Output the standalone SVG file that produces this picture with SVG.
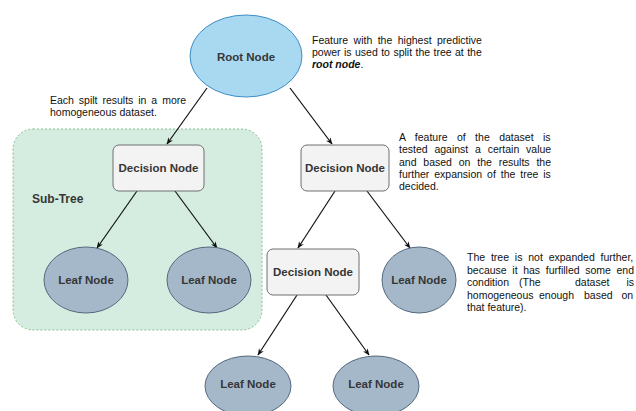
<svg xmlns="http://www.w3.org/2000/svg" width="636" height="411" viewBox="0 0 636 411">
<defs>
<style>
.lbl{font-family:"Liberation Sans",Arial,sans-serif;font-weight:bold;font-size:11.5px;fill:#363636;text-anchor:middle;dominant-baseline:central}
.ann{font-family:"Liberation Sans",Arial,sans-serif;font-size:10.5px;fill:#111}
.dec{fill:#f3f3f3;stroke:#6e6e6e;stroke-width:1}
.leaf{fill:#a5b8ca;stroke:#55697d;stroke-width:1}
.edge{stroke:#111;stroke-width:1.2;fill:none;marker-end:url(#ah)}
</style>
<marker id="ah" viewBox="0 0 10 10" refX="9" refY="5" markerWidth="7" markerHeight="7" orient="auto" markerUnits="userSpaceOnUse">
<path d="M0,1 L10,5 L0,9 L3,5 Z" fill="#111"/>
</marker>
</defs>
<rect width="636" height="411" fill="#fff"/>
<g id="subtree">
<rect x="13" y="129" width="249" height="201" rx="20" fill="#d5ede0" stroke="#86bf8f" stroke-dasharray="2,2"/>
<text x="32" y="199" class="lbl" style="text-anchor:start;font-size:12px">Sub-Tree</text>
</g>
<g id="connectors">
<line class="edge" x1="207" y1="88" x2="167" y2="144"/>
<line class="edge" x1="290" y1="88" x2="332" y2="144"/>
<line class="edge" x1="137" y1="191" x2="97" y2="248"/>
<line class="edge" x1="175" y1="191" x2="217" y2="248"/>
<line class="edge" x1="335" y1="191" x2="298" y2="248"/>
<line class="edge" x1="367" y1="191" x2="410" y2="248"/>
<line class="edge" x1="297" y1="295" x2="258" y2="355"/>
<line class="edge" x1="326" y1="295" x2="369" y2="355"/>
</g>
<g id="root">
<ellipse cx="246" cy="56" rx="56" ry="41" fill="#a9d8f1" stroke="#3f8fc6"/>
<text x="246" y="57" class="lbl">Root Node</text>
</g>
<g id="dec1">
<rect class="dec" x="113" y="145" width="91" height="46" rx="6"/>
<text x="158.5" y="168" class="lbl">Decision Node</text>
</g>
<g id="dec2">
<rect class="dec" x="301" y="145" width="88" height="46" rx="6"/>
<text x="345" y="168" class="lbl">Decision Node</text>
</g>
<g id="dec3">
<rect class="dec" x="267" y="249" width="92" height="46" rx="6"/>
<text x="313" y="272" class="lbl">Decision Node</text>
</g>
<g id="leaf1">
<ellipse class="leaf" cx="86" cy="280" rx="42" ry="33"/>
<text x="86" y="280" class="lbl">Leaf Node</text>
</g>
<g id="leaf2">
<ellipse class="leaf" cx="209" cy="280" rx="42" ry="33"/>
<text x="209" y="280" class="lbl">Leaf Node</text>
</g>
<g id="leaf3">
<ellipse class="leaf" cx="419" cy="280" rx="37" ry="33"/>
<text x="419" y="280" class="lbl">Leaf Node</text>
</g>
<g id="leaf4">
<ellipse class="leaf" cx="248" cy="386" rx="43" ry="30"/>
<text x="248" y="384" class="lbl">Leaf Node</text>
</g>
<g id="leaf5">
<ellipse class="leaf" cx="376" cy="386" rx="43" ry="30"/>
<text x="376" y="384" class="lbl">Leaf Node</text>
</g>
<g id="notes">
<text class="ann"><tspan x="312" y="44" style="word-spacing:2.5px">Feature with the highest predictive</tspan><tspan x="312" y="56" style="word-spacing:0.5px">power is used to split the tree at the</tspan><tspan x="312" y="68" font-weight="bold" font-style="italic">root node</tspan><tspan>.</tspan></text>
<text class="ann"><tspan x="50" y="104" style="word-spacing:2px">Each spilt results in a more</tspan><tspan x="50" y="116">homogeneous dataset.</tspan></text>
<text class="ann"><tspan x="399" y="141" style="word-spacing:6.5px">A feature of the dataset is</tspan><tspan x="399" y="153" style="word-spacing:3.9px">tested against a certain value</tspan><tspan x="399" y="166" style="word-spacing:3.9px">and based on the results the</tspan><tspan x="399" y="178" style="word-spacing:2px">further expansion of the tree is</tspan><tspan x="399" y="190">decided.</tspan></text>
<text class="ann"><tspan x="467" y="261" style="word-spacing:2.9px">The tree is not expanded further,</tspan><tspan x="467" y="274" style="word-spacing:2.7px">because it has furfilled some end</tspan><tspan x="467" y="286">condition</tspan><tspan x="519" y="286">(The</tspan><tspan x="575" y="286">dataset</tspan><tspan x="626.5" y="286">is</tspan><tspan x="467" y="299">homogeneous</tspan><tspan x="539" y="299">enough</tspan><tspan x="584" y="299">based</tspan><tspan x="621.5" y="299">on</tspan><tspan x="467" y="311">that feature).</tspan></text>
</g>
</svg>
